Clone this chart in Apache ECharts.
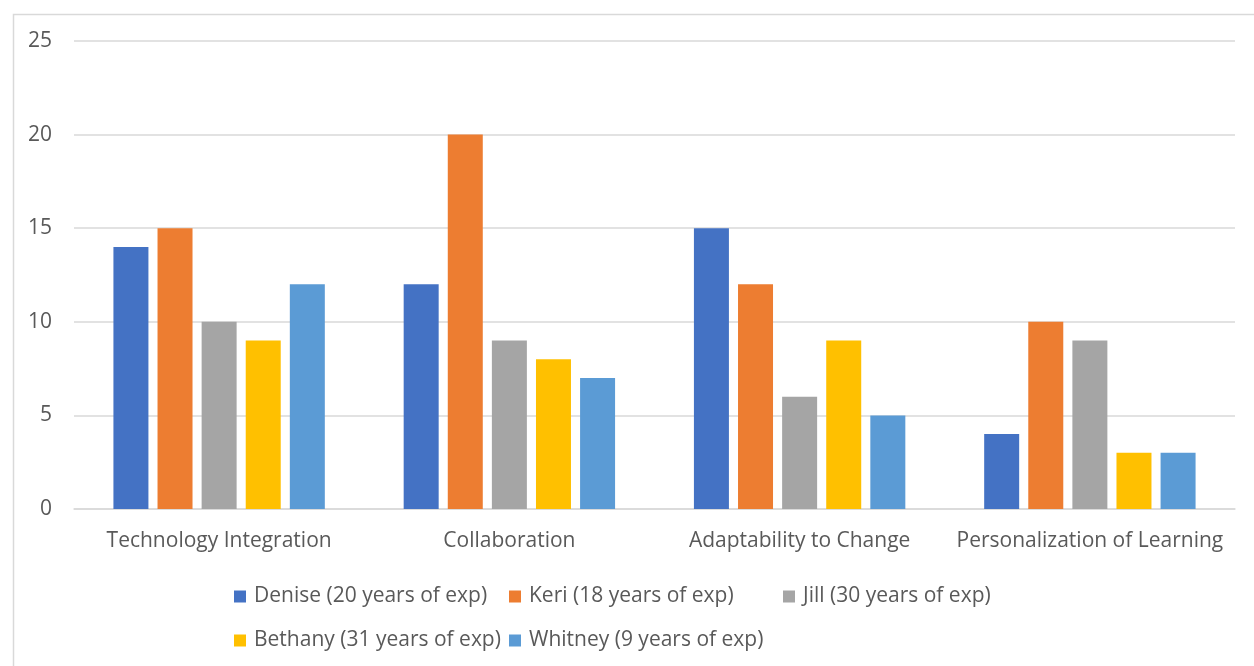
<!DOCTYPE html>
<html>
<head>
<meta charset="utf-8">
<script src="https://cdn.jsdelivr.net/npm/echarts@6/dist/echarts.min.js"></script>
<style>
  html, body { margin: 0; padding: 0; background: #fff; }
  #chart { width: 1254px; height: 666px; }
</style>
</head>
<body>
<div id="chart"></div>
<script>
// Skill areas along the x axis
const categories = ['Technology Integration', 'Collaboration', 'Adaptability to Change', 'Personalization of Learning'];

// One series per teacher
const seriesNames = [
  'Denise (20 years of exp)',
  'Keri (18 years of exp)',
  'Jill (30 years of exp)',
  'Bethany (31 years of exp)',
  'Whitney (9 years of exp)'
];
const denise  = [14, 12, 15, 4];
const keri    = [15, 20, 12, 10];
const jill    = [10, 9, 6, 9];
const bethany = [9, 8, 9, 3];
const whitney = [12, 7, 5, 3];

const yTicks = { min: 0, max: 25, interval: 5 };

const colors = ['#4472C4', '#ED7D31', '#A5A5A5', '#FFC000', '#5B9BD5'];
const values = [denise, keri, jill, bethany, whitney];
const font = 'Open Sans, Noto Sans, sans-serif';
const textColor = '#595959';

// Legend laid out in fixed columns, two rows
const legendPos = [
  { left: 229, top: 581 }, { left: 504, top: 581 }, { left: 778, top: 581 },
  { left: 229, top: 625 }, { left: 504, top: 625 }
];

const chart = echarts.init(document.getElementById('chart'), null, { renderer: 'canvas' });
chart.setOption({
  animation: false,
  backgroundColor: '#ffffff',
  color: colors,
  graphic: [{
    type: 'rect',
    left: 11, top: 12,
    shape: { width: 1400, height: 800 },
    style: { fill: 'none', stroke: '#d9d9d9', lineWidth: 1.5 },
    silent: true,
    z: -1
  }],
  grid: { left: 74, right: 19, top: 41, bottom: 157 },
  legend: legendPos.map((p, i) => ({
    data: [seriesNames[i]],
    left: p.left, top: p.top,
    orient: 'horizontal',
    icon: 'rect',
    itemWidth: 12, itemHeight: 12,
    itemGap: 0,
    textStyle: { color: textColor, fontFamily: font, fontSize: 21, padding: [0, 0, 0, 3] }
  })),
  xAxis: {
    type: 'category',
    data: categories,
    axisLine: { show: true, lineStyle: { color: '#d9d9d9', width: 1.5 } },
    axisTick: { show: false },
    axisLabel: { interval: 0, color: textColor, fontFamily: font, fontSize: 21, margin: 22 }
  },
  yAxis: {
    type: 'value',
    min: yTicks.min, max: yTicks.max, interval: yTicks.interval,
    axisLine: { show: false },
    axisTick: { show: false },
    splitLine: { lineStyle: { color: '#d9d9d9', width: 1.5 } },
    axisLabel: { color: textColor, fontFamily: font, fontSize: 21, margin: 22 }
  },
  series: seriesNames.map((name, i) => ({
    name: name,
    type: 'bar',
    data: values[i],
    barWidth: 35,
    barGap: '26%',
    itemStyle: { color: colors[i] }
  }))
});
</script>
</body>
</html>
